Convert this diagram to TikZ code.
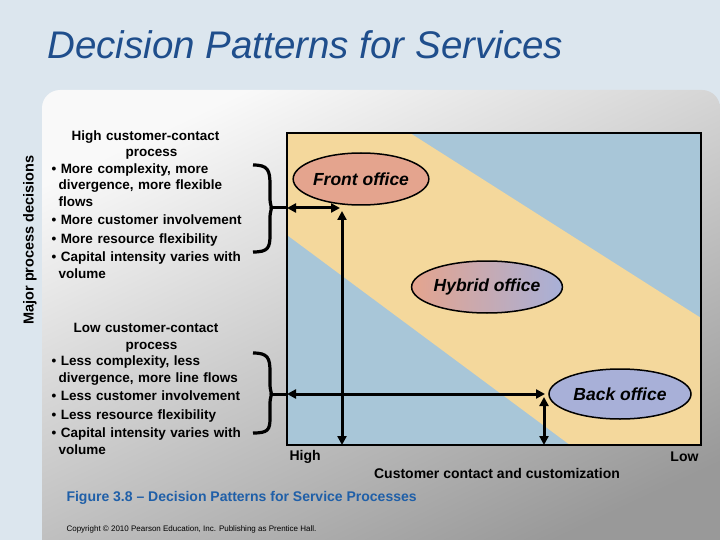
\documentclass[tikz,border=0pt]{standalone}
\usepackage{fontspec}
\setmainfont{Liberation Sans}
\usetikzlibrary{shapes.geometric,arrows.meta}
\definecolor{pagebg}{HTML}{DCE6EE}
\definecolor{titleblue}{HTML}{1F4E8C}
\definecolor{capblue}{HTML}{1F5FA8}
\definecolor{chartblue}{HTML}{A8C6D8}
\definecolor{band}{HTML}{F4D89C}
\definecolor{frontc}{HTML}{E4A48E}
\definecolor{backc}{HTML}{A8B0D8}
\tikzset{
  office/.style={ellipse,draw=black,line width=1.5pt,font=\bfseries\itshape\fontsize{17.5}{20}\selectfont,inner sep=0pt},
  txt/.style={font=\bfseries\fontsize{13.5}{16.5}\selectfont,align=left,anchor=north west,text width=240pt},
  dbl/.style={line width=3pt,{Triangle[length=9pt,width=9pt]}-{Triangle[length=9pt,width=9pt]}},
  brace/.style={line width=3.2pt},
  axl/.style={font=\bfseries\fontsize{14}{16}\selectfont}
}
\begin{document}
\begin{tikzpicture}[x=1pt,y=-1pt]
\useasboundingbox (0,0) rectangle (720,540);
\fill[pagebg] (0,0) rectangle (720,540);
\shade[top color=white!95!gray,bottom color=gray!80,shading angle=25,rounded corners=18pt]
  (42,90) -- (720,90) -- (720,560) -- (42,560) -- cycle;
\node[font=\itshape\fontsize{38.5}{44}\selectfont,text=titleblue,anchor=west] (title) at (44,45) {Decision Patterns for Services};
% chart
\fill[chartblue] (287,133) rectangle (701,445);
\fill[band] (287,133) -- (410,133) -- (701,318) -- (701,445) -- (570,445) -- (287,235) -- cycle;
\draw[line width=2.8pt] (287,133) rectangle (701,445);
\node[office,fill=frontc,minimum width=132pt,minimum height=52pt] (front) at (361,179) {Front office};
\node[office,left color=frontc,right color=backc,minimum width=138pt,minimum height=52pt] (hybrid) at (487,287) {Hybrid office};
\node[office,fill=backc,minimum width=142pt,minimum height=50pt] (back) at (620,394) {Back office};
\coordinate (b1) at (271,208);
\coordinate (c1) at (287,208);
\coordinate (t1) at (340,208);
\coordinate (v1) at (342,445);
\coordinate (v1t) at (342,211);
\coordinate (b2) at (271,394);
\coordinate (c2) at (287,394);
\coordinate (t2) at (545,394);
\coordinate (v2) at (544,445);
\coordinate (v2t) at (544,397);
\draw[line width=3pt] (b1) -- (c1);
\draw[dbl] (c1) -- (t1);
\draw[dbl] (v1) -- (v1t);
\draw[line width=3pt] (b2) -- (c2);
\draw[dbl] (c2) -- (t2);
\draw[dbl] (v2) -- (v2t);
% braces
\draw[brace] (253,165) .. controls (268,165) and (270,170) .. (270,185) -- (270,198) .. controls (270,205) and (272,207) .. (b1)
  .. controls (272,209) and (270,211) .. (270,218) -- (270,235) .. controls (270,248) and (268,252) .. (253,252);
\draw[brace] (253,353) .. controls (268,353) and (270,358) .. (270,372) -- (270,384) .. controls (270,391) and (272,393) .. (b2)
  .. controls (272,395) and (270,397) .. (270,404) -- (270,418) .. controls (270,430) and (268,433) .. (253,433);
% texts
\node[txt] (hi) at (48,127) {\hspace*{20pt}High customer-contact\\\hspace*{74pt}process\\
\textbullet\ More complexity, more\\\hspace*{7pt}divergence, more flexible\\\hspace*{7pt}flows\\[2pt]
\textbullet\ More customer involvement\\[2pt]\textbullet\ More resource flexibility\\[2pt]
\textbullet\ Capital intensity varies with\\\hspace*{7pt}volume};
\node[txt] (lo) at (48,320) {\hspace*{22pt}Low customer-contact\\\hspace*{74pt}process\\
\textbullet\ Less complexity, less\\\hspace*{7pt}divergence, more line flows\\[2pt]
\textbullet\ Less customer involvement\\[2pt]\textbullet\ Less resource flexibility\\[2pt]
\textbullet\ Capital intensity varies with\\\hspace*{7pt}volume};
\node[font=\bfseries\fontsize{14.5}{16}\selectfont,rotate=90] (ylab) at (30,240) {Major process decisions};
\node[axl,anchor=west] (high) at (286,457) {High};
\node[axl,anchor=east] (low) at (702,457) {Low};
\node[axl] (xlab) at (497,473) {Customer contact and customization};
\node[axl,text=capblue,anchor=west] (cap) at (63,498) {Figure 3.8 -- Decision Patterns for Service Processes};
\node[font=\fontsize{8}{9}\selectfont,anchor=west] (copy) at (63,529) {Copyright © 2010 Pearson Education, Inc. Publishing as Prentice Hall.};
\end{tikzpicture}
\end{document}
